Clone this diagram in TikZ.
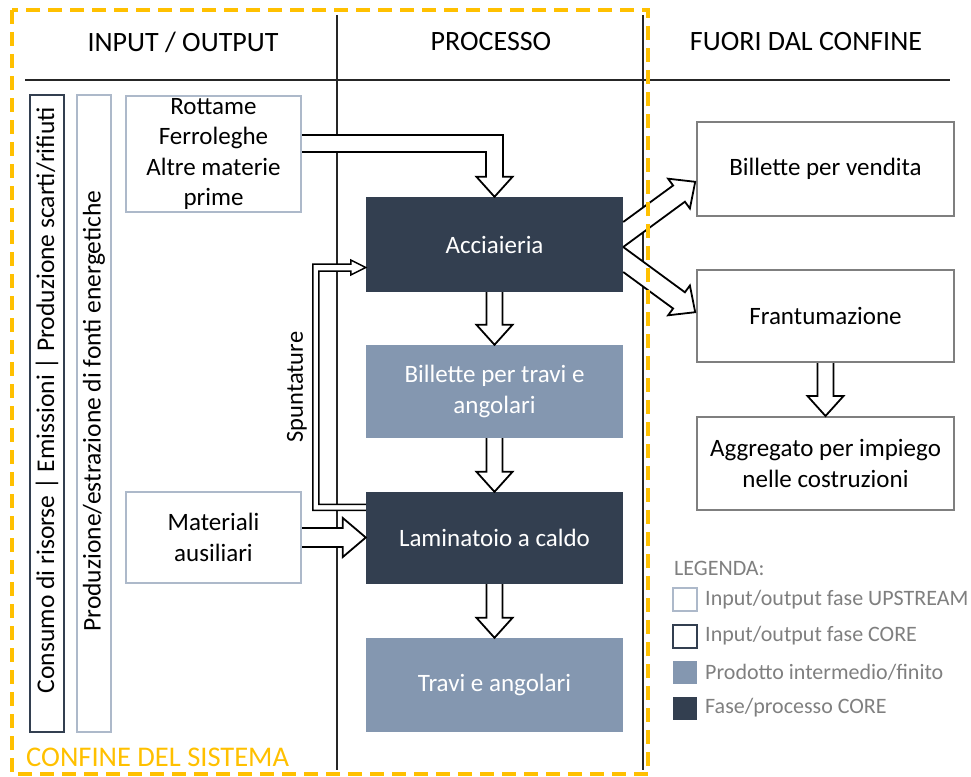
\documentclass[tikz,border=0pt]{standalone}
\usepackage{fontspec}
\setmainfont{Carlito}
\usetikzlibrary{calc}
\definecolor{darkbox}{HTML}{333F50}
\definecolor{midbox}{HTML}{8497B0}
\definecolor{lightedge}{HTML}{ADB9CA}
\definecolor{grayedge}{HTML}{7F7F7F}
\definecolor{bordo}{HTML}{FFC000}
\definecolor{legtext}{HTML}{7F7F7F}
\definecolor{rulecol}{HTML}{262626}
\newcommand\blkdown[2]{%
  \path[blk] ($(#1.south)+(-8,0)$) -- ($(#2.north)+(-8,-20)$) -- ($(#2.north)+(-18,-20)$) -- (#2.north)
    -- ($(#2.north)+(18,-20)$) -- ($(#2.north)+(8,-20)$) -- ($(#1.south)+(8,0)$);}
\begin{document}
\begin{tikzpicture}[x=1pt,y=-1pt,
  hdr/.style={font=\fontsize{28}{33}\selectfont, text=black, inner sep=0},
  body/.style={font=\fontsize{25}{30.5}\selectfont, align=center, inner sep=0},
  upbox/.style={body, draw=lightedge, line width=2, fill=white},
  corebox/.style={body, fill=darkbox, text=white},
  prodbox/.style={body, fill=midbox, text=white},
  outbox/.style={body, draw=grayedge, line width=2, fill=white, text=black},
  sidebox/.style={minimum width=34, minimum height=637, inner sep=0, line width=2, fill=white},
  sidetext/.style={rotate=90, font=\fontsize{25.5}{30}\selectfont, inner sep=0},
  blk/.style={draw=black, line width=1.8, fill=white, line join=miter},
  thinblk/.style={draw=black, line width=1.5, fill=white, line join=miter},
  rule/.style={draw=rulecol, line width=2},
  legsq/.style={minimum width=24, minimum height=23, inner sep=0},
  legtxt/.style={font=\fontsize{22}{26}\selectfont, text=legtext, anchor=west, inner sep=0}
]
\useasboundingbox (0,0) rectangle (971,776);

% column structure
\draw[rule] (25,80) -- (950,80);
\draw[rule] (337,15) -- (337,770);
\draw[rule] (643,15) -- (643,770);

% headers
\node[hdr] (hin) at (183,42) {INPUT / OUTPUT};
\node[hdr] (hproc) at (491,42) {PROCESSO};
\node[hdr] (hout) at (806,42) {FUORI DAL CONFINE};

% side boxes
\node[sidebox, draw=darkbox] (side1) at (47,413.5) {};
\node[sidetext] (side1t) at (47,400) {Consumo di risorse | Emissioni | Produzione scarti/rifiuti};
\node[sidebox, draw=lightedge] (side2) at (94,413.5) {};
\node[sidetext] (side2t) at (94,411) {Produzione/estrazione di fonti energetiche};

% input boxes
\node[upbox, minimum width=175, minimum height=116] (rott) at (213.5,154) {\raisebox{-2pt}{\parbox{170pt}{\centering Rottame\\Ferroleghe\\Altre materie\\prime}}};
\node[upbox, minimum width=175, minimum height=91] (mat) at (213.5,537.5) {Materiali\\ausiliari};

% process boxes
\node[corebox, minimum width=257, minimum height=95] (acc) at (494.5,244.5) {Acciaieria};
\node[prodbox, minimum width=257, minimum height=93] (bil) at (494.5,391.5) {Billette per travi e\\angolari};
\node[corebox, minimum width=257, minimum height=92] (lam) at (494.5,538) {Laminatoio a caldo};
\node[prodbox, minimum width=257, minimum height=94] (trav) at (494.5,685) {Travi e angolari};

% outside boxes
\node[outbox, minimum width=257, minimum height=94] (vend) at (825.5,169) {Billette per vendita};
\node[outbox, minimum width=257, minimum height=92] (fran) at (825.5,316) {Frantumazione};
\node[outbox, minimum width=257, minimum height=93] (aggr) at (825.5,463.5) {Aggregato per impiego\\nelle costruzioni};

% block arrows
\blkdown{acc}{bil}
\blkdown{bil}{lam}
\blkdown{lam}{trav}
\blkdown{fran}{aggr}

% Rottame -> Acciaieria
\coordinate (r0) at ($(rott.east)+(0,-10.5)$);
\coordinate (rk) at (acc.north |- r0);
\path[blk] ($(r0)+(0,-8.5)$) -- ($(rk)+(8.5,-8.5)$) -- ($(acc.north)+(8.5,-20)$) -- ($(acc.north)+(18,-20)$)
  -- (acc.north) -- ($(acc.north)+(-18,-20)$) -- ($(acc.north)+(-8.5,-20)$) -- ($(rk)+(-8.5,8.5)$) -- ($(r0)+(0,8.5)$);

% Materiali -> Laminatoio
\coordinate (m1) at (lam.west |- mat.east);
\path[blk] ($(mat.east)+(0,-9.5)$) -- ($(m1)+(-23,-9.5)$) -- ($(m1)+(-23,-19.5)$) -- (m1)
  -- ($(m1)+(-23,19.5)$) -- ($(m1)+(-23,9.5)$) -- ($(mat.east)+(0,9.5)$);

% Spuntature: Laminatoio -> Acciaieria
\coordinate (s1) at ($(lam.north west)+(0,15.5)$);
\coordinate (s2) at ($(acc.west)+(0,23)$);
\path[thinblk] ($(s1)+(0,3)$) -- ($(s1)+(-53,3)$) -- ($(s2)+(-53,-3.5)$) -- ($(s2)+(-15,-3.5)$) -- ($(s2)+(-15,-7.5)$)
  -- (s2) -- ($(s2)+(-15,7.5)$) -- ($(s2)+(-15,3.5)$) -- ($(s2)+(-47,3.5)$) -- ($(s1)+(-47,-3)$) -- ($(s1)+(0,-3)$);
\node[rotate=90, font=\fontsize{24.5}{29}\selectfont, inner sep=0] (spunt) at (297,387) {Spuntature};

% Acciaieria -> outside boxes (diagonal)
\coordinate (v) at ($(acc.east)+(0,2.5)$);
\path[blk] ($(v)+(0,-25)$) -- ($(v)+(49.9,-61.5)$) -- ($(v)+(44.9,-68.3)$) -- ($(v)+(72,-65.2)$)
  -- ($(v)+(66.7,-38.5)$) -- ($(v)+(61.7,-45.3)$) -- (v);
\path[blk] ($(v)+(0,25)$) -- ($(v)+(49.9,61.5)$) -- ($(v)+(44.9,68.3)$) -- ($(v)+(72,65.2)$)
  -- ($(v)+(66.7,38.5)$) -- ($(v)+(61.7,45.3)$) -- (v);

% legend
\node[legtxt] (legh) at (674,568) {LEGENDA:};
\node[legsq, draw=lightedge, line width=2, fill=white] (lq1) at (685,599.5) {};
\node[legtxt] (lt1) at (705,600) {Input/output fase UPSTREAM};
\node[legsq, draw=darkbox, line width=2, fill=white] (lq2) at (685,636.5) {};
\node[legtxt] (lt2) at (705,636) {Input/output fase CORE};
\node[legsq, fill=midbox] (lq3) at (685,672) {};
\node[legtxt] (lt3) at (705,672) {Prodotto intermedio/finito};
\node[legsq, fill=darkbox] (lq4) at (685,708.5) {};
\node[legtxt] (lt4) at (705,708) {Fase/processo CORE};

% system boundary
\draw[bordo, line width=3.5, dash pattern=on 14 off 8] (12,10) rectangle (648,774);
\node[font=\fontsize{28.5}{33}\selectfont, text=bordo, anchor=west, inner sep=0] (conf) at (26,757) {CONFINE DEL SISTEMA};
\end{tikzpicture}
\end{document}
